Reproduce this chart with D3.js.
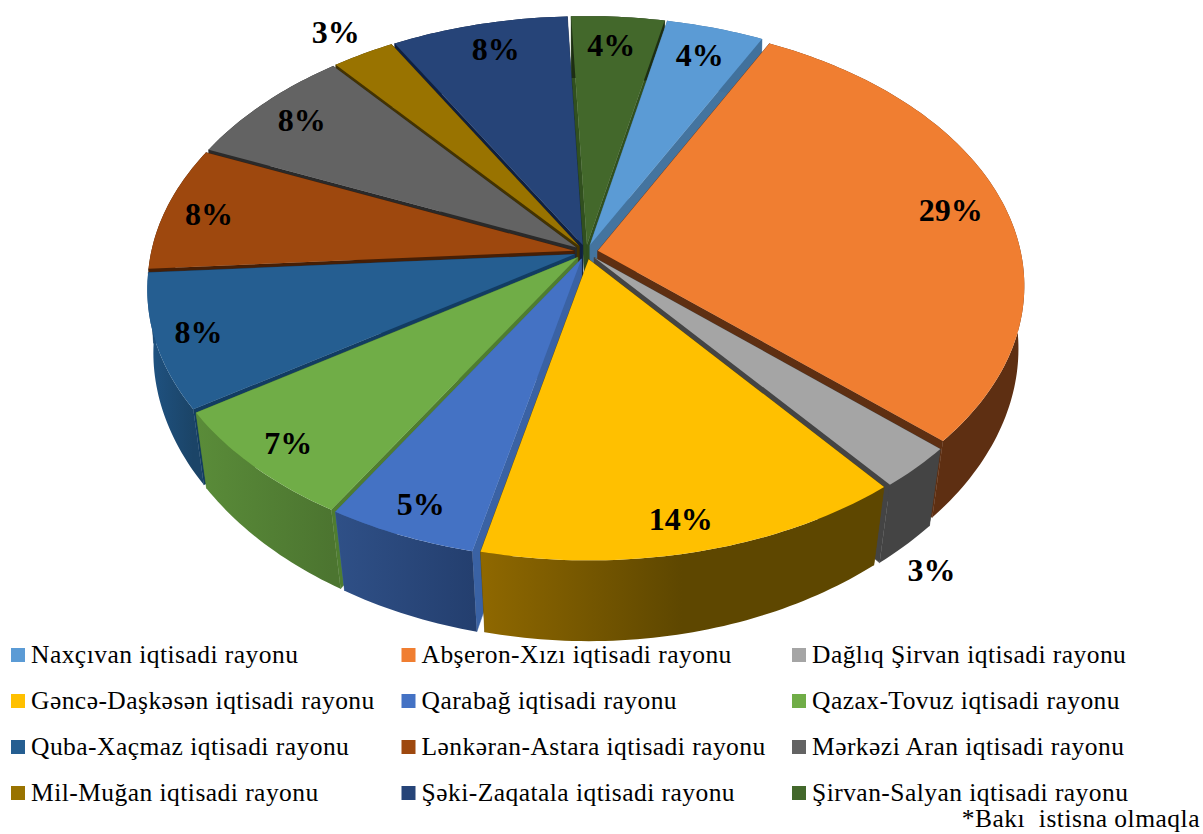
<!DOCTYPE html>
<html><head><meta charset="utf-8">
<script src="https://cdn.jsdelivr.net/npm/d3@7"></script>
<style>html,body{margin:0;background:#fff}svg{display:block}text{font-family:"Liberation Serif",serif;fill:#000}</style>
</head><body><svg id="c" width="1203" height="834"></svg>
<script>
const regions=["Naxçıvan iqtisadi rayonu","Abşeron-Xızı iqtisadi rayonu","Dağlıq Şirvan iqtisadi rayonu","Gəncə-Daşkəsən iqtisadi rayonu","Qarabağ iqtisadi rayonu","Qazax-Tovuz iqtisadi rayonu","Quba-Xaçmaz iqtisadi rayonu","Lənkəran-Astara iqtisadi rayonu","Mərkəzi Aran iqtisadi rayonu","Mil-Muğan iqtisadi rayonu","Şəki-Zaqatala iqtisadi rayonu","Şirvan-Salyan iqtisadi rayonu"];
const shares=[4.2,29.1,2.6,14.3,5,7.1,8.2,7.6,7.5,2.7,7.6,4];
const topColors=["#5B9BD5","#F07E31","#A5A5A5","#FFC000","#4472C4","#70AD47","#255E91","#9E480E","#636363","#997300","#264478","#43682B"];
const wallLight=["#41719C","#5E2F12","#444444","#8F6800","#2F5087","#5A8C39","#1F5383","#461F06","#2A2A2A","#443300","#0F2040","#1D2E13"];
const wallDark=["#41719C","#5E2F12","#444444","#5E4700","#243F6F","#4C7530","#1B4467","#461F06","#2A2A2A","#443300","#0F2040","#1D2E13"];
const wallFade=[1,1,1,.5,1,1,1,1,1,1,1,1];
const sideColors=["#44749F","#5E2F12","#444444","#5E4700","#3A62A4","#4F7D30","#123C62","#461F06","#2A2A2A","#443300","#0F2040","#31501F"];
const labelReach=[.89,.895,1.27,.93,.93,.93,.93,.92,.90,1.156,.90,.89];
const labelTurn=[0,0,9.6,.6,0,0,0,-.6,0,-.4,.8,-.5];
const footnote="*Bakı  istisna olmaqla";

const cx=586,cy=252,R=423,tilt=.6147,persp=.000307,depth=70,shrinkBase=.01,shrinkFront=.03,burst=12;
const svg=d3.select("#c"),defs=svg.append("defs");
const rad=Math.PI/180;
const pie=d3.pie().sort(null).startAngle(12*rad).endAngle(372*rad);
const arcs=pie(shares).map((d,i)=>({...d,i,mid:(d.startAngle+d.endAngle)/2}));

function project(px,py,low){
  const s=1/(1-persp*py);
  const x=cx+px*s,y=cy+py*tilt*s;
  return low?[cx+(x-cx)*(1-shrinkBase-shrinkFront*Math.max(0,py/R)),y+depth*s]:[x,y];
}
const polar=(a,r)=>[r*Math.sin(a),-r*Math.cos(a)];
const line=d3.line();
arcs.sort((a,b)=>(-Math.cos(a.mid))-(-Math.cos(b.mid)));

arcs.forEach(d=>{
  const [ox,oy]=polar(d.mid,burst);
  const n=Math.max(8,Math.round((d.endAngle-d.startAngle)/rad));
  const ang=d3.range(n+1).map(k=>d.startAngle+(d.endAngle-d.startAngle)*k/n);
  const rim=low=>ang.map(a=>{const[p,q]=polar(a,R);return project(p+ox,q+oy,low)});
  const hub=project(ox,oy,false),hubLow=project(ox,oy,true);
  const top=rim(false),bot=rim(true);
  const g=svg.append("g");
  const side=sideColors[d.i];
  g.append("path").attr("d",line([hub,top[0],bot[0],hubLow])+"Z").attr("fill",side).attr("stroke",side).attr("stroke-width",.5);
  g.append("path").attr("d",line([hub,top[n],bot[n],hubLow])+"Z").attr("fill",side).attr("stroke",side).attr("stroke-width",.5);
  const xs=d3.extent(top,p=>p[0]);
  const gr=defs.append("linearGradient").attr("id","w"+d.i).attr("gradientUnits","userSpaceOnUse")
    .attr("x1",xs[0]).attr("x2",xs[1]).attr("y1",0).attr("y2",0);
  gr.append("stop").attr("offset",0).attr("stop-color",wallLight[d.i]);
  gr.append("stop").attr("offset",wallFade[d.i]).attr("stop-color",wallDark[d.i]);
  gr.append("stop").attr("offset",1).attr("stop-color",wallDark[d.i]);
  g.append("path").attr("d",line(top.concat(bot.slice().reverse()))+"Z").attr("fill",`url(#w${d.i})`);
  g.append("path").attr("d",line([hub].concat(top))+"Z").attr("fill",topColors[d.i]);
});

arcs.forEach(d=>{
  const [p,q]=polar(d.mid+labelTurn[d.i]*rad,R*labelReach[d.i]);
  const [x,y]=project(p,q,false);
  svg.append("text").attr("x",x).attr("y",y).attr("dy",".33em").attr("text-anchor","middle")
    .attr("font-size",32).attr("font-weight","bold").text(d3.format(".0f")(shares[d.i])+"%");
});

const colX=d3.scalePoint().domain([0,1,2]).range([11,792]);
const rowY=d3.scalePoint().domain([0,1,2,3]).range([655,793]);
regions.forEach((name,i)=>{
  const c=i%3,r=Math.floor(i/3),x=colX(c),y=rowY(r);
  svg.append("rect").attr("x",x).attr("y",y-7).attr("width",14).attr("height",14).attr("fill",topColors[i]);
  svg.append("text").attr("x",x+20).attr("y",y+8).attr("font-size",25.5).attr("letter-spacing",.46).text(name);
});
svg.append("text").attr("x",1200).attr("y",827).attr("text-anchor","end").attr("font-size",25.5).attr("letter-spacing",.5).style("white-space","pre").text(footnote);
</script></body></html>
